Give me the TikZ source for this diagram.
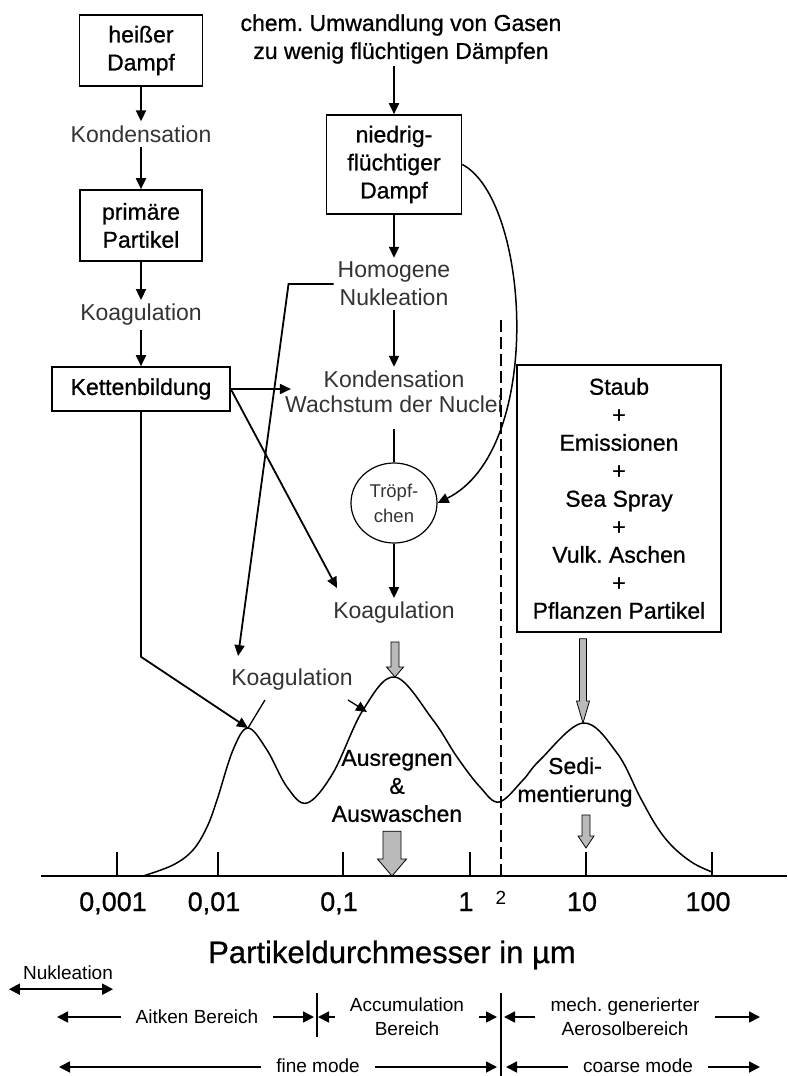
\documentclass[tikz,border=0pt]{standalone}
\usepackage{fontspec}
\setmainfont{Liberation Sans}
\newfontfamily\heavy{Liberation Sans}[FakeBold=0.8]
\usepackage{tikz}
\usetikzlibrary{arrows.meta,calc,shapes.geometric}
\frenchspacing
\newcommand{\fsBox}{\heavy\fontsize{23}{28}\selectfont}
\newcommand{\fsLbl}{\fontsize{23}{28}\selectfont}
\newcommand{\fsNum}{\heavy\fontsize{27}{30}\selectfont}
\newcommand{\fsAxis}{\heavy\fontsize{31}{34}\selectfont}
\newcommand{\fsRange}{\fontsize{19}{24}\selectfont}
\newcommand{\fsSmall}{\fontsize{18.5}{25}\selectfont}
\tikzset{
  box/.style={draw,line width=1.6pt,align=center,font=\fsBox,inner sep=0pt},
  lbl/.style={align=center,font=\fsLbl,text=black!80,inner sep=4pt},
  arr/.style={-{Triangle[length=11pt,width=10pt]},line width=1.8pt},
  tick/.style={line width=1.5pt},
  num/.style={font=\fsNum,inner sep=0pt,anchor=base},
  rlbl/.style={font=\fsRange,align=center,inner xsep=15pt,inner ysep=2pt},
  rarr/.style={-{Triangle[length=11pt,width=11pt]},line width=1.7pt},
  darr/.style={{Triangle[length=11pt,width=11pt]}-{Triangle[length=11pt,width=11pt]},line width=2pt},
  grenze/.style={dash pattern=on 12pt off 5pt,line width=1.6pt},
  fatarr/.style={fill=black!27,draw=black,line width=0.8pt}
}
% grey block arrow: start, tip, half shaft, half head, head length
\newcommand{\grayarrow}[5]{%
  \filldraw[fatarr] let \p1=#1, \p2=#2 in
    (\x2-#3,\y1) -- (\x2+#3,\y1) -- (\x2+#3,\y2+#5) -- (\x2+#4,\y2+#5)
    -- (\x2,\y2) -- (\x2-#4,\y2+#5) -- (\x2-#3,\y2+#5) -- cycle;}

\begin{document}
\begin{tikzpicture}[x=1pt,y=-1pt]
 \useasboundingbox (0,0) rectangle (787,1076);
 % left chain
 \node[box,minimum width=123pt,minimum height=71pt] (dampf) at (141,50.5) {heißer\\Dampf};
 \node[lbl] (kond1) at (141,134) {Kondensation};
 \node[box,minimum width=122pt,minimum height=71pt] (prim) at (141,225.5) {primäre\\Partikel};
 \node[lbl] (koag1) at (141,315) {Koagulation};
 \node[box,minimum width=178pt,minimum height=44pt] (kette) at (141,389) {Kettenbildung};
 % middle chain
 \node[lbl,font=\fsBox,text=black,inner sep=2pt] (chem) at (401,39) {chem. Umwandlung von Gasen\\zu wenig flüchtigen Dämpfen};
 \node[box,minimum width=135pt,minimum height=99pt] (niedrig) at (394,164.5) {niedrig-\\flüchtiger\\Dampf};
 \node[lbl] (homog) at (394,284) {Homogene\\Nukleation};
 \node[lbl,font=\fontsize{23}{25}\selectfont] (kond2) at (394,392) {Kondensation\\Wachstum der Nuclei};
 \node[ellipse,draw,line width=1.2pt,minimum width=86pt,minimum height=80pt,inner sep=0pt,
   font=\fsSmall,text=black!80,align=center] (tropf) at (394,503) {Tröpf-\\chen};
 \node[lbl] (koag2) at (394,613) {Koagulation};
 \node[lbl] (koag3) at (292,680) {Koagulation};
 \node[lbl,font=\fsBox,text=black] (ausr) at (397,786) {Ausregnen\\\&\\Auswaschen};
 \node[lbl,font=\fsBox,text=black] (sedi) at (575,782) {Sedi-\\mentierung};
 \node[box,line width=1.5pt,minimum width=204pt,minimum height=267pt] (staub) at (619,498.5)
   {Staub\\+\\Emissionen\\+\\Sea Spray\\+\\Vulk. Aschen\\+\\Pflanzen Partikel};

 \coordinate (peakA) at (248,728);
 \coordinate (peakB) at (395,677);
 \coordinate (peakC) at (583,723);
 \coordinate (onB) at (367,712);

 \draw[arr] (dampf.south) -- (kond1.north);
 \draw[arr] (kond1.south) -- (prim.north);
 \draw[arr] (prim.south) -- (koag1.north);
 \draw[arr] (koag1.south) -- (kette.north);
 \draw[arr] (chem.south -| niedrig.north) -- (niedrig.north);
 \draw[arr] (niedrig.south) -- (homog.north);
 \draw[arr] (homog.south) -- (kond2.north);
 \draw[line width=1.8pt,shorten <=12pt] (kond2.south) -- (tropf.north);
 \draw[arr] (tropf.south) -- (koag2.north);
 \draw[arr] (kette.east) -- ($(kette.east -| kond2.west)+(10,0)$);
 \draw[arr] (kette.east) -- ([xshift=8pt,yshift=10pt]koag2.north west);
 \draw[arr] (kette.south) -- ++(0,245) -- (peakA);
 \draw[arr] (homog.west) -- ++(-45,0) -- ([xshift=11pt,yshift=9pt]koag3.north west);
 \draw[arr,line width=1.5pt] (niedrig.east) .. controls (530,200) and (545,450) .. (tropf.east);
 \draw[arr,line width=1.3pt] ([xshift=-9pt,yshift=-5pt]koag3.south east) -- (onB);
 \draw[line width=1.3pt] ([xshift=-27pt,yshift=-5pt]koag3.south) -- (peakA);

 % size distribution
 \draw[line width=1.5pt] plot[smooth,tension=0.6] coordinates {(143,876) (173,865) (193,850)
   (207,827) (217,800) (233,750) (248,728) (267,750) (287,787) (307,803) (333,773) (363,710)
   (395,677) (433,720) (457,757) (480,787) (499,802) (523,780) (540,760) (583,723) (617,753)
   (640,797) (657,827) (673,847) (693,863) (712,872)};

 \coordinate (axL) at (41,876);
 \coordinate (axR) at (787,876);
 \draw[line width=2pt] (axL) -- (axR);
 \foreach \x/\v [count=\i] in {117/{0,001},218/{0,01},343/{0,1},470/1,586/10,712/100}{
   \draw[tick] (\x,876) -- ++(0,-24) coordinate (tt\i);
   \node[num] (n\i) at (\x-4,911) {\v};
 }
 \coordinate (split) at (501,876);
 \draw[grenze] (split) -- ++(0,-558);
 \node[font=\fontsize{19}{22}\selectfont,inner sep=0pt,anchor=base] (zwei) at (501,904) {2};
 \node[font=\fsAxis,inner sep=0pt] (titel) at (392,955) {Partikeldurchmesser in µm};

 \grayarrow{([yshift=-14pt]koag2.south)}{(peakB)}{4pt}{8.5pt}{10pt}
 \grayarrow{([yshift=-6pt]staub.south)}{(peakC)}{3.5pt}{6.5pt}{22pt}
 \grayarrow{([yshift=-5pt]ausr.south)}{([xshift=-5pt]ausr.south |- axL)}{9pt}{14.5pt}{17pt}
 \grayarrow{([yshift=-4pt]sedi.south)}{([yshift=4pt]tt5)}{4pt}{8pt}{12pt}

 % size ranges
 \node[font=\fsRange,inner sep=1pt] (nukl) at (68,973) {Nukleation};
 \draw[darr] ([xshift=-13pt,yshift=-8pt]nukl.south west) -- ([xshift=-1pt,yshift=-8pt]nukl.south east);

 \coordinate (sepA) at (317,1017);
 \coordinate (sepB) at (501,1017);
 \coordinate (rowL) at (57,1017);
 \coordinate (rowR) at (760,1017);
 \coordinate (modeL) at (59,1067);
 \coordinate (modeM) at (501,1067);
 \coordinate (modeR) at (760,1067);
 \draw[line width=1.3pt] ([yshift=24pt]sepA) -- ([yshift=-20pt]sepA);
 \draw[line width=1.3pt] ([yshift=24pt]sepB) -- ([yshift=-59pt]sepB);

 \node[rlbl] (aitken) at (197,1017) {Aitken Bereich};
 \node[rlbl] (accum) at (407,1017) {Accumulation\\Bereich};
 \node[rlbl] (mech) at (625,1017) {mech. generierter\\Aerosolbereich};
 \node[rlbl] (fine) at (318,1066) {fine mode};
 \node[rlbl] (coarse) at (638,1066) {coarse mode};

 \draw[rarr] (aitken.west) -- (rowL);
 \draw[rarr] (aitken.east) -- ([xshift=-3pt]sepA);
 \draw[rarr] (accum.west) -- ([xshift=1pt]sepA);
 \draw[rarr] (accum.east) -- ([xshift=-4pt]sepB);
 \draw[rarr] (mech.west) -- ([xshift=3pt]sepB);
 \draw[rarr] (mech.east) -- (rowR);
 \draw[rarr] (fine.west |- modeL) -- (modeL);
 \draw[rarr] (fine.east |- modeL) -- ([xshift=-4pt]modeM);
 \draw[rarr] (coarse.west |- modeL) -- ([xshift=5pt]modeM);
 \draw[rarr] (coarse.east |- modeL) -- (modeR);
\end{tikzpicture}
\end{document}
